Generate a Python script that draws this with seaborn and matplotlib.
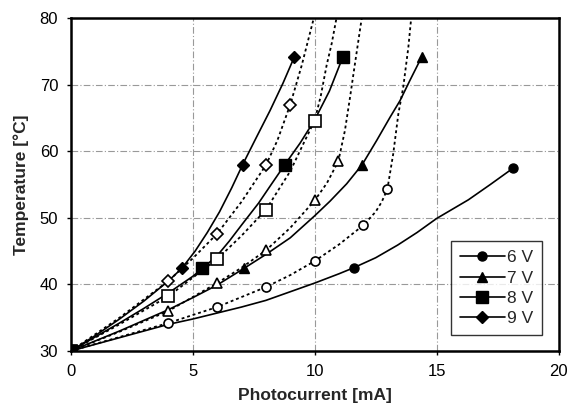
import numpy as np
import pandas as pd
import matplotlib
matplotlib.use('Agg')
import matplotlib.pyplot as plt
from matplotlib.lines import Line2D
import seaborn as sns

# measured points (filled markers, solid curves)
v6_x = [0, 11.6, 18.15]
v6_y = [30, 42.5, 57.5]
v7_x = [0, 7.1, 11.95, 14.38]
v7_y = [30, 42.4, 58.0, 74.1]
v8_x = [0, 5.4, 8.78, 11.15]
v8_y = [30, 42.4, 58.0, 74.1]
v9_x = [0, 4.55, 7.05, 9.16]
v9_y = [30, 42.4, 58.0, 74.1]

# open markers (dotted curves)
o6_x = [0, 4, 6, 8, 10, 12, 12.98]
o6_y = [30, 34.2, 36.6, 39.6, 43.5, 48.9, 54.3]
o7_x = [0, 4, 6, 8, 10, 10.97]
o7_y = [30, 36.0, 40.2, 45.1, 52.6, 58.5]
o8_x = [0, 4, 6, 8, 10]
o8_y = [30, 38.2, 43.8, 51.2, 64.6]
o9_x = [0, 4, 6, 8, 9]
o9_y = [30, 40.5, 47.6, 57.9, 67.0]

# curve traces
c6_x = [0, 1, 2, 3, 4, 5, 6, 7, 8, 9, 10, 11, 11.6, 12.5, 13.4, 14.2, 15, 16.3, 17.2, 18.15]
c6_y = [30, 31.0, 32.0, 33.0, 34.0, 34.8, 35.7, 36.6, 37.6, 38.9, 40.2, 41.6, 42.5, 44.0,
        45.9, 47.8, 49.9, 52.7, 55.0, 57.5]
c7_x = [0, 1, 2, 3, 4, 5, 6, 7.1, 8, 9, 10, 10.63, 11.31, 11.95, 12.54, 13.09, 13.5, 13.9, 14.38]
c7_y = [30, 31.5, 33.0, 34.6, 36.2, 38.0, 39.9, 42.4, 44.5, 47.0, 50.3, 52.5, 55.1, 58.0,
        61.6, 65.1, 67.6, 70.6, 74.1]
c8_x = [0, 1, 2, 3, 4, 5, 5.4, 6, 6.5, 7, 7.7, 8.2, 8.78, 9.4, 10, 10.6, 11.15]
c8_y = [30, 32.1, 34.2, 36.4, 38.7, 41.2, 42.4, 44.3, 46.5, 48.9, 52.2, 54.9, 58.0, 61.2,
        64.7, 69.0, 74.1]
c9_x = [0, 1, 2, 3, 4, 4.55, 5.1, 5.6, 6.1, 6.6, 7.05, 7.6, 8.17, 8.7, 9.16]
c9_y = [30, 32.3, 34.8, 37.5, 40.5, 42.4, 45.0, 47.8, 50.9, 54.5, 58.0, 62.0, 66.1, 70.2, 74.1]

d6_x = [0, 2, 4, 6, 8, 9, 10, 11, 12, 12.5, 12.75, 12.98, 13.22, 13.43, 13.63, 13.84, 13.97]
d6_y = [30, 32.1, 34.2, 36.6, 39.6, 41.4, 43.5, 46.0, 48.9, 50.9, 52.4, 54.3, 59.6, 65.6,
        69.6, 75.6, 80.5]
d7_x = [0, 2, 4, 6, 7, 8, 9, 10, 10.5, 10.97, 11.24, 11.45, 11.65, 11.95]
d7_y = [30, 32.9, 36.0, 40.2, 42.5, 45.1, 48.5, 52.6, 55.2, 58.5, 63.1, 68.1, 73.1, 80.5]
d8_x = [0, 2, 4, 5, 6, 7, 8, 9, 9.6, 10, 10.25, 10.49, 10.7, 10.92]
d8_y = [30, 34.0, 38.2, 41.0, 43.8, 47.3, 51.2, 57.0, 61.6, 64.6, 68.3, 72.9, 76.2, 80.5]
d9_x = [0, 2, 4, 5, 6, 7, 8, 8.47, 9, 9.47, 10.0]
d9_y = [30, 35.0, 40.5, 43.9, 47.6, 52.4, 57.9, 61.6, 67.0, 72.9, 80.5]

labels = ['6 V', '7 V', '8 V', '9 V']
markers = ['o', '^', 's', 'D']
msizes = [6.5, 7.5, 8, 6]

sns.set_style('ticks')
plt.rcParams['font.family'] = ['Liberation Sans', 'DejaVu Sans']

fig = plt.figure(figsize=(5.68, 4.09), dpi=100)
ax = fig.add_axes([0.1245, 0.1418, 0.859, 0.8142])

solid = [(c6_x, c6_y), (c7_x, c7_y), (c8_x, c8_y), (c9_x, c9_y)]
dotted = [(d6_x, d6_y), (d7_x, d7_y), (d8_x, d8_y), (d9_x, d9_y)]
filled = [(v6_x, v6_y), (v7_x, v7_y), (v8_x, v8_y), (v9_x, v9_y)]
opened = [(o6_x, o6_y), (o7_x, o7_y), (o8_x, o8_y), (o9_x, o9_y)]

for (cx, cy) in dotted:
    df = pd.DataFrame({'x': cx, 'y': cy})
    sns.lineplot(data=df, x='x', y='y', sort=False, estimator=None, color='k',
                 lw=1.3, linestyle=(0, (1.6, 1.6)), ax=ax)
for (cx, cy) in solid:
    df = pd.DataFrame({'x': cx, 'y': cy})
    sns.lineplot(data=df, x='x', y='y', sort=False, estimator=None, color='k',
                 lw=1.2, ax=ax)

for i in range(4):
    ox, oy = opened[i]
    ax.plot(ox, oy, ls='none', marker=markers[i], ms=msizes[i], mfc='white',
            mec='k', mew=1.2, zorder=4)
    fx, fy = filled[i]
    ax.plot(fx, fy, ls='none', marker=markers[i], ms=msizes[i], mfc='k',
            mec='k', zorder=5)

ax.set_xlim(0, 20)
ax.set_ylim(30, 80)
ax.set_xticks([0, 5, 10, 15, 20])
ax.set_yticks([30, 40, 50, 60, 70, 80])
ax.grid(True, color='0.6', lw=0.8, linestyle=(0, (6, 2, 1, 2)))
ax.set_axisbelow(True)
for s in ax.spines.values():
    s.set_linewidth(1.8)
    s.set_color('k')
ax.tick_params(labelsize=12, length=3, width=1, colors='k', pad=6)
ax.set_xlabel('Photocurrent [mA]', fontsize=12.5, fontweight='bold', labelpad=7)
ax.set_ylabel('Temperature [°C]', fontsize=12.5, fontweight='bold', labelpad=8)

handles = [Line2D([], [], color='k', lw=1.2, marker=markers[i], ms=msizes[i],
                  mfc='k', mec='k') for i in range(4)]
leg = ax.legend(handles, labels, loc='lower right', bbox_to_anchor=(0.965, 0.048),
                fontsize=12.5, frameon=True, fancybox=False, handlelength=2.6,
                handletextpad=0.1, labelspacing=0.3, borderpad=0.5,
                borderaxespad=0)
leg.get_frame().set_edgecolor('k')
leg.get_frame().set_linewidth(1.0)

fig.savefig('out.png', dpi=100)
